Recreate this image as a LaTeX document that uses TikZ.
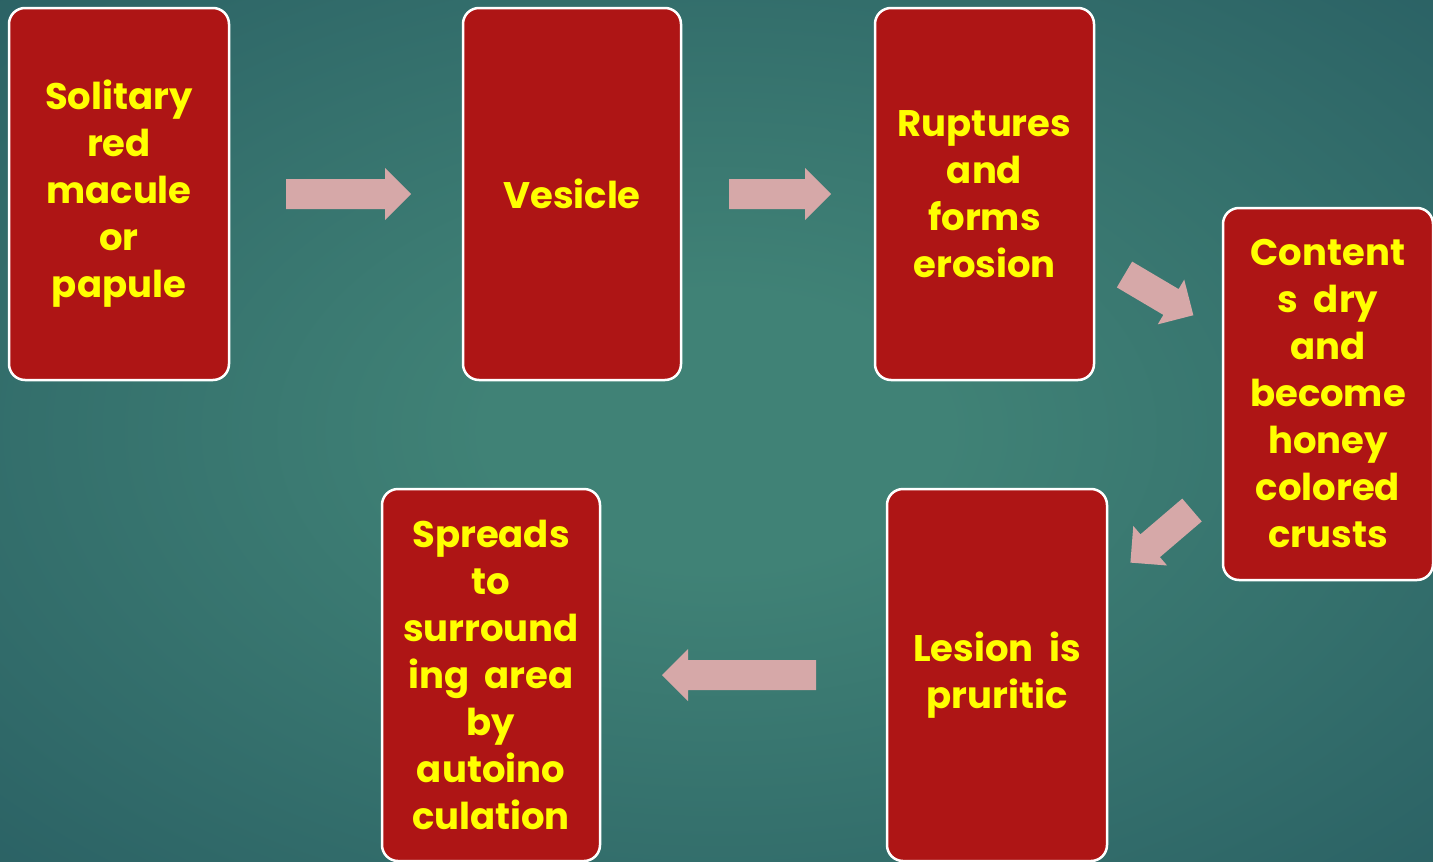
\documentclass[tikz,border=0pt]{standalone}
\usepackage{fontspec}
\setmainfont{Poppins}
\usetikzlibrary{calc}
\definecolor{bgin}{RGB}{64,130,118}
\definecolor{bgout}{RGB}{25,70,86}
\definecolor{boxred}{RGB}{174,21,21}
\definecolor{txtyellow}{RGB}{255,255,0}
\definecolor{arrowpink}{RGB}{214,168,168}
\pgfdeclareradialshading{bgshade}{\pgfpoint{0bp}{0bp}}{color(0bp)=(bgin); color(8bp)=(bgin); color(60bp)=(bgout); color(80bp)=(bgout)}
\newcommand\stepboxfont{\fontsize{37}{47}\selectfont\bfseries\spaceskip=0.42em\relax}
\tikzset{
  stepbox/.style={draw=white, line width=2.5pt, rounded corners=16pt, fill=boxred,
    minimum height=372pt, inner sep=0pt, align=center, text=txtyellow,
    font=\stepboxfont},
  arrowfill/.style={fill=arrowpink}
}
% #1 tail point, #2 angle, #3 length
\newcommand\blockarrow[3]{%
  \fill[arrowfill, shift={#1}, rotate=#2]
    (0,-15) -- ({#3-26},-15) -- ({#3-26},-26) -- (#3,0) -- ({#3-26},26) -- ({#3-26},15) -- (0,15) -- cycle;}
\begin{document}
\begin{tikzpicture}[x=1pt,y=-1pt]
\useasboundingbox (0,0) rectangle (1433,862);
\shade[shading=bgshade] (0,0) rectangle (1433,862);

\node[stepbox, minimum width=220pt] (b1) at (119,194) {Solitary\\red\\macule\\or\\papule};
\node[stepbox, minimum width=218pt] (b2) at (572,194) {Vesicle};
\node[stepbox, minimum width=219pt] (b3) at (984.5,194) {Ruptures\\and\\forms\\erosion};
\node[stepbox, minimum width=210pt] (b4) at (1328,394) {Content\\s dry\\and\\become\\honey\\colored\\crusts};
\node[stepbox, minimum width=220pt] (b5) at (997,675) {Lesion is\\pruritic};
\node[stepbox, minimum width=218pt] (b6) at (491,675) {Spreads\\to\\surround\\ing area\\by\\autoino\\culation};

\coordinate (a1) at (286,194);
\coordinate (a2) at (729,194);
\coordinate (a3) at (1124.5,274.5);
\coordinate (a4) at (1192,510);
\coordinate (a5) at (816,675);
\blockarrow{(a1)}{0}{125}
\blockarrow{(a2)}{0}{102}
\blockarrow{(a3)}{-30.6}{80}
\blockarrow{(a4)}{220.5}{81}
\blockarrow{(a5)}{180}{154}
\end{tikzpicture}
\end{document}
